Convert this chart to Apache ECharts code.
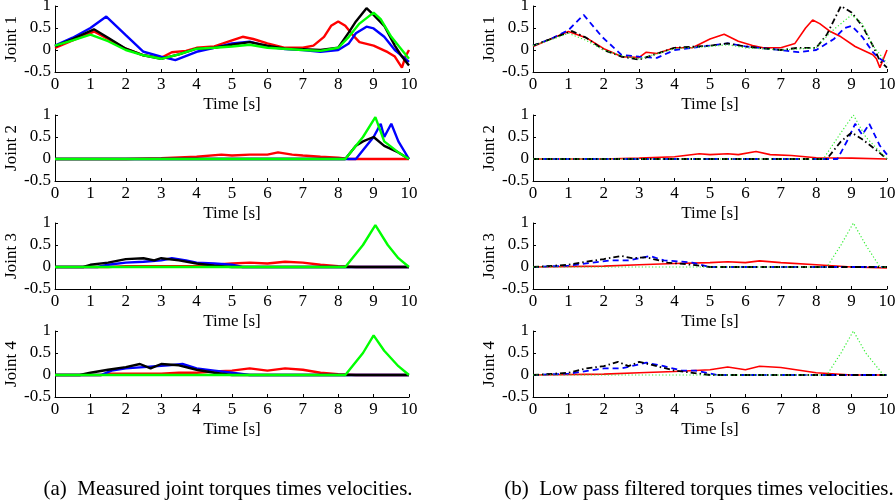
<!DOCTYPE html>
<html>
<head>
<meta charset="utf-8">
<script src="https://cdn.jsdelivr.net/npm/echarts@6/dist/echarts.min.js"></script>
<style>
  html, body { margin: 0; padding: 0; background: #fff; }
  #main { width: 895px; height: 504px; }
</style>
</head>
<body>
<div id="main"></div>
<script>
// axis text
const jointNames = ['Joint 1', 'Joint 2', 'Joint 3', 'Joint 4']
const captions = ['(a)  Measured joint torques times velocities.', '(b)  Low pass filtered torques times velocities.']

// ---- measured (left column), [time, value]
const j1MeasRed = [[0, 0.05], [0.5, 0.22], [1.1, 0.42], [1.5, 0.25], [2, 0.03], [2.5, -0.12], [3, -0.18], [3.3, -0.05], [3.7, -0.02], [4, 0.05], [4.5, 0.08], [5, 0.22], [5.3, 0.3], [5.6, 0.25], [6, 0.15], [6.5, 0.05], [7, 0.05], [7.3, 0.1], [7.6, 0.3], [7.8, 0.55], [8, 0.65], [8.2, 0.55], [8.4, 0.35], [8.6, 0.18], [9, 0.1], [9.4, -0.05], [9.6, -0.15], [9.8, -0.4], [9.9, -0.15], [10, 0]]
const j1MeasBlue = [[0, 0.1], [0.5, 0.28], [1, 0.5], [1.45, 0.76], [2, 0.34], [2.5, -0.04], [3, -0.15], [3.4, -0.23], [4, -0.04], [4.5, 0.05], [5, 0.15], [5.5, 0.19], [6, 0.08], [6.5, 0.02], [7, 0], [7.5, -0.04], [8, 0], [8.3, 0.15], [8.5, 0.38], [8.8, 0.53], [9, 0.49], [9.3, 0.3], [9.6, 0.0], [10, -0.27]]
const j1MeasBlack = [[0, 0.08], [0.5, 0.25], [1.1, 0.47], [1.5, 0.28], [2, 0.03], [2.5, -0.12], [3, -0.2], [3.5, -0.1], [4, 0.03], [4.5, 0.05], [5, 0.12], [5.5, 0.18], [6, 0.1], [6.5, 0.03], [7, 0.02], [7.5, 0], [8, 0.05], [8.3, 0.4], [8.5, 0.65], [8.8, 0.95], [9, 0.8], [9.3, 0.55], [9.6, 0.1], [9.8, -0.15], [10, -0.35]]
const j1MeasGreen = [[0, 0.1], [0.5, 0.22], [1, 0.35], [1.5, 0.2], [2, 0], [2.5, -0.12], [3, -0.2], [3.5, -0.1], [4, 0.03], [4.5, 0.05], [5, 0.08], [5.5, 0.12], [6, 0.05], [7, 0], [7.5, -0.02], [8, 0.05], [8.3, 0.3], [8.6, 0.6], [9, 0.85], [9.2, 0.7], [9.5, 0.3], [9.8, 0], [10, -0.2]]

const j2MeasRed = [[0, 0], [2, 0], [3, 0.02], [4, 0.05], [4.7, 0.1], [5, 0.08], [5.5, 0.1], [6, 0.1], [6.3, 0.15], [6.7, 0.1], [7, 0.08], [7.5, 0.05], [8, 0.03], [8.3, 0], [10, 0]]
const j2MeasBlue = [[0, 0], [8.5, 0], [8.8, 0.3], [9, 0.5], [9.2, 0.8], [9.3, 0.5], [9.5, 0.8], [9.7, 0.4], [10, 0]]
const j2MeasBlack = [[0, 0], [8.2, 0], [8.5, 0.3], [8.7, 0.4], [9, 0.5], [9.3, 0.3], [9.7, 0.15], [10, 0]]
const j2MeasGreen = [[0, 0], [8.2, 0], [8.7, 0.5], [9.05, 0.95], [9.3, 0.4], [9.7, 0.15], [10, 0]]

const j3MeasRed = [[0, 0], [1.5, 0], [2, 0.02], [4, 0.02], [4.5, 0.05], [5, 0.08], [5.5, 0.1], [6, 0.08], [6.5, 0.12], [7, 0.1], [7.5, 0.05], [8, 0.02], [8.5, 0], [10, 0]]
const j3MeasBlue = [[0, 0], [1.2, 0], [1.5, 0.05], [2, 0.1], [2.5, 0.12], [3, 0.15], [3.3, 0.2], [3.7, 0.15], [4, 0.1], [4.5, 0.08], [5, 0.05], [5.3, 0], [10, 0]]
const j3MeasBlack = [[0, 0], [0.8, 0], [1, 0.05], [1.5, 0.1], [2, 0.18], [2.5, 0.2], [2.8, 0.15], [3, 0.2], [3.5, 0.15], [4, 0.08], [4.5, 0.03], [5, 0], [10, 0]]
const j3MeasGreen = [[0, 0], [8.2, 0], [8.7, 0.5], [9.05, 0.95], [9.4, 0.5], [9.7, 0.2], [10, 0]]

const j4MeasRed = [[0, 0], [1.3, 0], [1.5, 0.03], [3, 0.03], [3.5, 0.05], [4, 0.05], [4.5, 0.08], [5, 0.1], [5.5, 0.15], [6, 0.1], [6.5, 0.15], [7, 0.12], [7.5, 0.05], [8, 0.02], [8.5, 0], [10, 0]]
const j4MeasBlue = [[0, 0], [1.3, 0], [1.6, 0.1], [2, 0.15], [2.5, 0.18], [3.2, 0.22], [3.6, 0.25], [4, 0.15], [4.5, 0.1], [5, 0.05], [5.5, 0], [10, 0]]
const j4MeasBlack = [[0, 0], [0.7, 0], [1, 0.05], [1.5, 0.12], [2, 0.18], [2.4, 0.25], [2.7, 0.15], [3, 0.25], [3.5, 0.22], [4, 0.12], [4.5, 0.05], [5, 0], [10, 0]]
const j4MeasGreen = [[0, 0], [8.2, 0], [8.7, 0.5], [9, 0.9], [9.3, 0.55], [9.7, 0.2], [10, 0]]

// ---- low pass filtered (right column), [time, value]
const j1FiltRed = [[0, 0.08], [0.5, 0.25], [1, 0.42], [1.5, 0.28], [2, 0.03], [2.5, -0.15], [3, -0.17], [3.2, -0.05], [3.5, -0.08], [4, 0.05], [4.5, 0.05], [5, 0.25], [5.4, 0.36], [5.8, 0.2], [6.2, 0.1], [6.5, 0.05], [7, 0.05], [7.4, 0.15], [7.7, 0.5], [7.9, 0.68], [8.1, 0.6], [8.4, 0.42], [8.7, 0.3], [9.1, 0.08], [9.6, -0.11], [9.7, -0.2], [9.8, -0.4], [10, 0]]
const j1FiltBlue = [[0, 0.1], [0.5, 0.25], [1, 0.45], [1.43, 0.8], [1.95, 0.3], [2.5, -0.11], [3, -0.15], [3.5, -0.18], [4, 0], [5, 0.1], [5.5, 0.15], [6, 0.08], [7, 0], [7.5, -0.05], [8, 0], [8.5, 0.25], [8.8, 0.5], [9, 0.55], [9.3, 0.3], [9.6, -0.05], [9.8, -0.2], [10, -0.3]]
const j1FiltBlack = [[0, 0.1], [0.5, 0.25], [1.1, 0.43], [1.5, 0.28], [2, 0], [2.5, -0.15], [3, -0.22], [4, 0.05], [5, 0.1], [5.5, 0.15], [6, 0.08], [7, 0], [7.5, 0.05], [8, 0.05], [8.3, 0.35], [8.7, 1.0], [9, 0.85], [9.3, 0.55], [9.6, 0.1], [9.8, -0.25], [10, -0.4]]
const j1FiltGreen = [[0, 0.1], [0.5, 0.23], [1, 0.38], [1.5, 0.22], [2, 0], [2.5, -0.13], [3, -0.2], [4, 0.03], [5, 0.08], [5.5, 0.12], [6, 0.05], [7, 0], [8, 0.05], [8.4, 0.4], [9, 0.8], [9.3, 0.6], [9.6, 0.1], [10, -0.3]]

const j2FiltRed = [[0, 0], [2, 0], [3, 0.02], [4, 0.05], [4.7, 0.12], [5, 0.1], [5.5, 0.12], [5.8, 0.1], [6.3, 0.17], [6.7, 0.1], [7.3, 0.08], [8, 0.03], [9, 0.02], [10, 0]]
const j2FiltBlue = [[0, 0], [8.6, 0], [8.9, 0.45], [9.1, 0.8], [9.3, 0.55], [9.5, 0.8], [9.8, 0.3], [10, 0.1]]
const j2FiltBlack = [[0, 0], [8.3, 0], [8.7, 0.4], [9, 0.6], [9.3, 0.45], [9.7, 0.2], [10, 0]]
const j2FiltGreen = [[0, 0], [8.2, 0], [8.7, 0.6], [9.05, 1.0], [9.4, 0.5], [10, 0]]

const j3FiltRed = [[0, 0], [2, 0.02], [3, 0.05], [4, 0.08], [5, 0.1], [5.5, 0.12], [6, 0.1], [6.4, 0.14], [7, 0.1], [8, 0.05], [9, 0], [10, -0.02]]
const j3FiltBlue = [[0, 0], [1, 0.03], [1.5, 0.08], [2.2, 0.15], [2.7, 0.15], [3.3, 0.25], [3.7, 0.15], [4.2, 0.12], [4.5, 0.1], [5, 0], [10, 0]]
const j3FiltBlack = [[0, 0], [1, 0.05], [1.5, 0.12], [2, 0.18], [2.5, 0.25], [2.8, 0.2], [3.2, 0.22], [3.8, 0.1], [4.5, 0.05], [5, 0], [10, 0]]
const j3FiltGreen = [[0, 0], [8.3, 0], [8.7, 0.5], [9.05, 1.0], [9.4, 0.5], [9.8, 0], [10, 0]]

const j4FiltRed = [[0, 0], [2, 0.02], [3, 0.05], [4, 0.08], [5, 0.12], [5.5, 0.18], [6, 0.12], [6.4, 0.2], [7, 0.17], [8, 0.05], [9, 0], [10, 0]]
const j4FiltBlue = [[0, 0], [1, 0.03], [2, 0.15], [2.5, 0.15], [3.2, 0.28], [3.7, 0.2], [4.2, 0.1], [4.6, 0.1], [5.2, 0], [10, 0]]
const j4FiltBlack = [[0, 0], [1, 0.05], [1.5, 0.15], [2, 0.2], [2.4, 0.3], [2.7, 0.2], [3, 0.3], [3.5, 0.2], [4, 0.1], [4.5, 0.05], [5, 0], [10, 0]]
const j4FiltGreen = [[0, 0], [8.3, 0], [8.7, 0.5], [9.05, 1.0], [9.4, 0.5], [9.9, 0], [10, 0]]

const measured = [
  [j1MeasRed, j1MeasBlue, j1MeasBlack, j1MeasGreen],
  [j2MeasRed, j2MeasBlue, j2MeasBlack, j2MeasGreen],
  [j3MeasRed, j3MeasBlue, j3MeasBlack, j3MeasGreen],
  [j4MeasRed, j4MeasBlue, j4MeasBlack, j4MeasGreen]
]
const filtered = [
  [j1FiltRed, j1FiltBlue, j1FiltBlack, j1FiltGreen],
  [j2FiltRed, j2FiltBlue, j2FiltBlack, j2FiltGreen],
  [j3FiltRed, j3FiltBlue, j3FiltBlack, j3FiltGreen],
  [j4FiltRed, j4FiltBlue, j4FiltBlack, j4FiltGreen]
]

const FONT = 'Liberation Serif'
const colLeft = [55, 533]
const rowTop = [6, 115, 223, 331]
const plotW = 354
const plotH = 66

// measured all solid (thick, noisy look), filtered with matlab style dashes
const measStyles = [
  { color: '#ff0000', type: 'solid', width: 2.4 },
  { color: '#0000ff', type: 'solid', width: 2.4 },
  { color: '#000000', type: 'solid', width: 2.4 },
  { color: '#00ff00', type: 'solid', width: 2.4 }
]
const filtStyles = [
  { color: '#ff0000', type: 'solid', width: 1.6 },
  { color: '#0000ff', type: [6, 4], width: 1.8 },
  { color: '#000000', type: [6, 3, 1.5, 3], width: 1.8 },
  { color: '#33ee33', type: [1.2, 2.2], width: 1.2 }
]

const grids = []
const xAxes = []
const yAxes = []
const series = []

function addPanel(col, row, sets, styles) {
  const idx = grids.length
  grids.push({
    left: colLeft[col], top: rowTop[row], width: plotW, height: plotH,
    containLabel: false, outerBoundsMode: 'none'
  })
  xAxes.push({
    type: 'value', gridIndex: idx, min: 0, max: 10, interval: 1,
    name: 'Time [s]', nameLocation: 'middle', nameGap: 24,
    nameTextStyle: { fontFamily: FONT, fontSize: 17, color: '#000' },
    axisLine: { onZero: false, lineStyle: { color: '#000', width: 1 } },
    axisTick: { inside: true, length: 3, lineStyle: { color: '#000' } },
    axisLabel: { margin: 4, fontFamily: FONT, fontSize: 17, color: '#000', showMinLabel: true, showMaxLabel: true },
    splitLine: { show: false }
  })
  yAxes.push({
    type: 'value', gridIndex: idx, min: -0.5, max: 1, interval: 0.5,
    name: jointNames[row], nameLocation: 'middle', nameGap: 33, nameRotate: 90,
    nameTextStyle: { fontFamily: FONT, fontSize: 17, color: '#000' },
    axisLine: { show: true, lineStyle: { color: '#000', width: 1 } },
    axisTick: { show: true, inside: true, length: 3, lineStyle: { color: '#000' } },
    axisLabel: { margin: 4, fontFamily: FONT, fontSize: 17, color: '#000' },
    splitLine: { show: false }
  })
  sets.forEach((data, k) => {
    series.push({
      type: 'line', xAxisIndex: idx, yAxisIndex: idx,
      data: data, symbol: 'none', silent: true,
      lineStyle: styles[k]
    })
  })
}

for (let r = 0; r < 4; r++) {
  addPanel(0, r, measured[r], measStyles)
  addPanel(1, r, filtered[r], filtStyles)
}

const chart = echarts.init(document.getElementById('main'))
chart.setOption({
  animation: false,
  backgroundColor: '#fff',
  textStyle: { fontFamily: FONT },
  title: [
    { text: captions[0], left: 223, top: 474, textAlign: 'center',
      textStyle: { fontFamily: FONT, fontSize: 21, fontWeight: 'normal', color: '#000' } },
    { text: captions[1], left: 694, top: 474, textAlign: 'center',
      textStyle: { fontFamily: FONT, fontSize: 21, fontWeight: 'normal', color: '#000' } }
  ],
  grid: grids,
  xAxis: xAxes,
  yAxis: yAxes,
  series: series
})
</script>
</body>
</html>
